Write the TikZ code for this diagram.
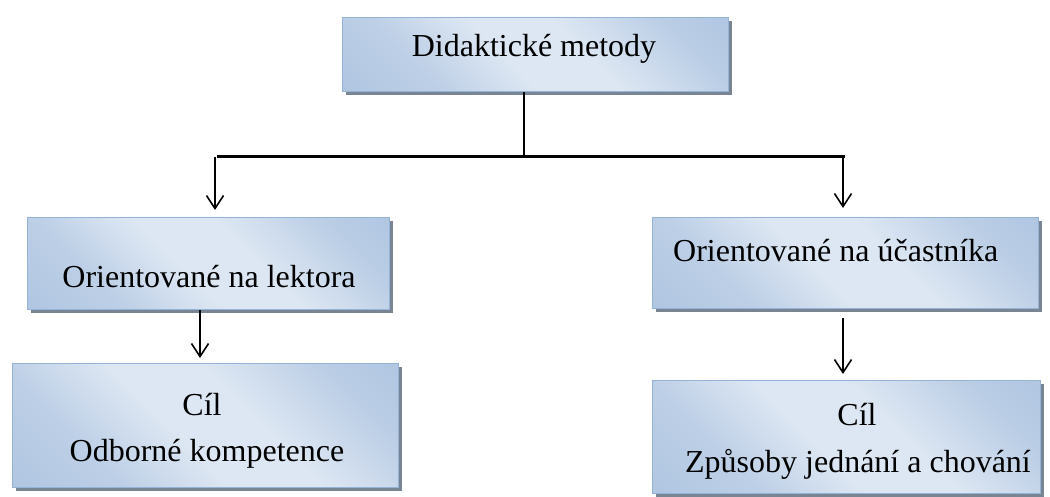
\documentclass[tikz,border=0pt]{standalone}
\usepackage{fontspec}
\setmainfont{Liberation Serif}
\usetikzlibrary{arrows.meta,shadows}
\definecolor{boxborder}{HTML}{95B3D7}
\definecolor{boxlight}{HTML}{DDE7F3}
\definecolor{boxdark}{HTML}{A3BCDC}
\definecolor{shadowgray}{HTML}{7A8594}
\pgfdeclareverticalshading{diagband}{100bp}{color(0bp)=(boxdark); color(30bp)=(boxdark!55!boxlight); color(45bp)=(boxlight); color(58bp)=(boxlight); color(75bp)=(boxdark!60!boxlight); color(100bp)=(boxdark)}
\tikzset{
  box/.style={draw=boxborder, line width=1.3pt, anchor=north west, inner sep=0pt,
    shading=diagband, shading angle=-45,
    drop shadow={shadow xshift=3.5pt, shadow yshift=-3.5pt, fill=shadowgray, opacity=1}},
  txt/.style={font=\fontsize{32}{38}\selectfont, inner sep=0pt},
  conn/.style={line width=1.6pt},
  bar/.style={line width=3pt},
  arr/.style={line width=1.6pt, -{Straight Barb[length=13pt,width=17pt,line width=1.6pt]}}
}
\begin{document}
\begin{tikzpicture}[x=1pt,y=-1pt]
\useasboundingbox (0,0) rectangle (1050,497);
% boxes
\node[box, minimum width=386pt, minimum height=74pt] (top) at (342,17) {};
\node[box, minimum width=362pt, minimum height=92pt] (lm) at (27,217) {};
\node[box, minimum width=386pt, minimum height=91pt] (rm) at (652,217) {};
\node[box, minimum width=386pt, minimum height=124pt] (lb) at (12,363) {};
\node[box, minimum width=388pt, minimum height=113pt] (rb) at (652,380) {};
% texts
\node[txt] (ttop) at (534,49) {Didaktické metody};
\node[txt] (tlm) at (209,277) {Orientované na lektora};
\node[txt, anchor=west] (trm) at (673,251) {Orientované na účastníka};
\node[txt] (tlb1) at (202,405) {Cíl};
\node[txt] (tlb2) at (207,454) {Odborné kompetence};
\node[txt] (trb1) at (857,415) {Cíl};
\node[txt] (trb2) at (858,464) {Způsoby jednání a chování};
% connectors
\coordinate (tj) at (524,157);
\coordinate (hl) at (217,157);
\coordinate (hr) at (845,157);
\coordinate (la) at (215,157);
\coordinate (ra) at (843,157);
\draw[conn] (tj |- top.south) -- (tj);
\draw[bar] (hl) -- (hr);
\draw[arr] (la) -- ([yshift=7pt]la |- lm.north);
\draw[arr] (ra) -- ([yshift=9pt]ra |- rm.north);
\coordinate (lb0) at (200,310);
\coordinate (rb0) at (843,318);
\draw[arr] (lb0) -- ([yshift=5pt]lb0 |- lb.north);
\draw[arr] (rb0) -- ([yshift=6pt]rb0 |- rb.north);
\end{tikzpicture}
\end{document}
